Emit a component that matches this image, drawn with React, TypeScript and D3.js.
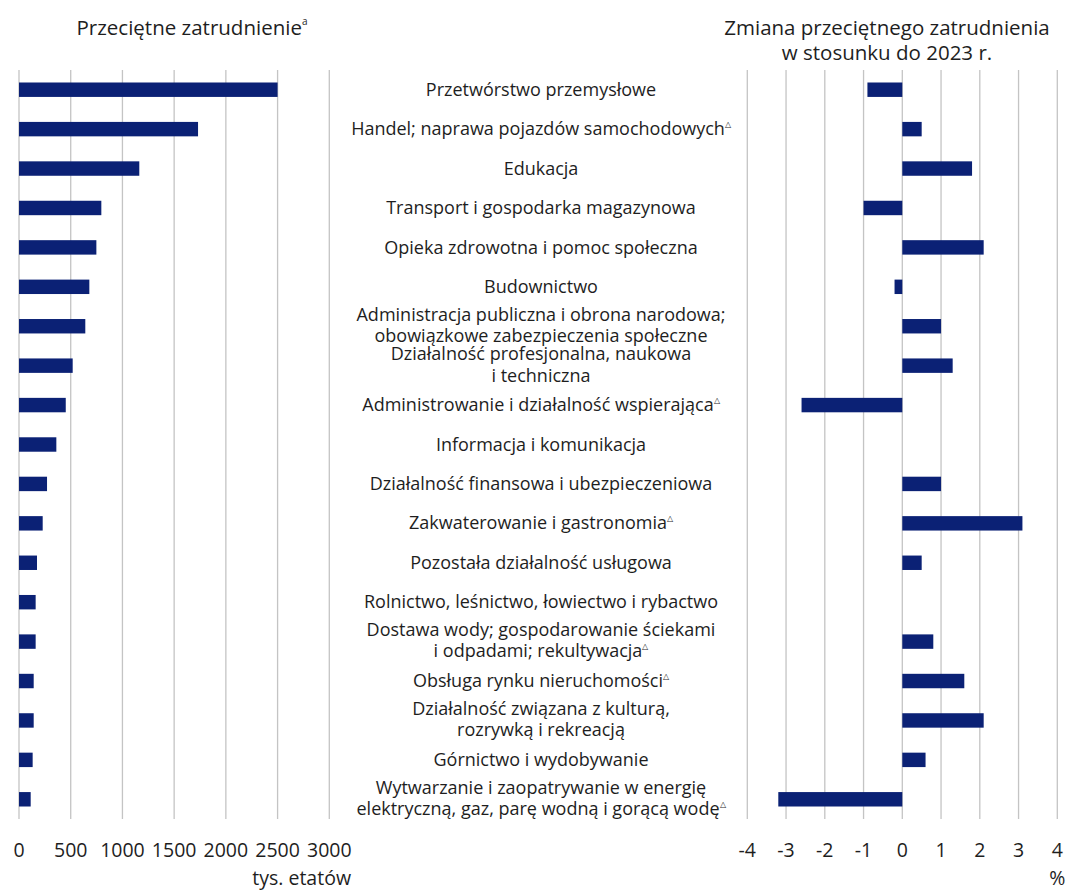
import React from "react";
import * as d3 from "d3";

const categories: string[] = [
  "Przetwórstwo przemysłowe",
  "Handel; naprawa pojazdów samochodowych△",
  "Edukacja",
  "Transport i gospodarka magazynowa",
  "Opieka zdrowotna i pomoc społeczna",
  "Budownictwo",
  "Administracja publiczna i obrona narodowa;|obowiązkowe zabezpieczenia społeczne",
  "Działalność profesjonalna, naukowa|i techniczna",
  "Administrowanie i działalność wspierająca△",
  "Informacja i komunikacja",
  "Działalność finansowa i ubezpieczeniowa",
  "Zakwaterowanie i gastronomia△",
  "Pozostała działalność usługowa",
  "Rolnictwo, leśnictwo, łowiectwo i rybactwo",
  "Dostawa wody; gospodarowanie ściekami|i odpadami; rekultywacja△",
  "Obsługa rynku nieruchomości△",
  "Działalność związana z kulturą,|rozrywką i rekreacją",
  "Górnictwo i wydobywanie",
  "Wytwarzanie i zaopatrywanie w energię|elektryczną, gaz, parę wodną i gorącą wodę△",
];

const employment: number[] = [2500, 1731, 1163, 796, 748, 680, 641, 519, 452, 361, 271, 229, 174, 161, 161, 142, 142, 132, 113];

const change: (number | null)[] = [-0.9, 0.5, 1.8, -1.0, 2.1, -0.2, 1.0, 1.3, -2.6, null, 1.0, 3.1, 0.5, null, 0.8, 1.6, 2.1, 0.6, -3.2];

const leftTicks: number[] = [0, 500, 1000, 1500, 2000, 2500, 3000];
const rightTicks: number[] = [-4, -3, -2, -1, 0, 1, 2, 3, 4];

const leftTitle = "Przeciętne zatrudnienie";
const rightTitle = ["Zmiana przeciętnego zatrudnienia", "w stosunku do 2023 r."];
const leftUnit = "tys. etatów";
const rightUnit = "%";

const FONT = "'Open Sans', 'Noto Sans', sans-serif";
const BAR = "#0b2175";
const GRID = "#c4c4c4";
const TEXT = "#1e1e1e";

export default function App() {
  const W = 1067;
  const H = 891;
  const top = 70;
  const bottom = 819;

  const y = d3
    .scaleBand<number>()
    .domain(d3.range(categories.length))
    .range([top, bottom])
    .paddingInner(0.634)
    .paddingOuter(0.317);

  const xL = d3.scaleLinear().domain([0, 3000]).range([19, 329.3]);
  const xR = d3.scaleLinear().domain([-4, 4]).range([747.3, 1057.3]);

  const labelX = 541;
  const fs = 18;
  const lineH = 21.5;
  const big = 20.5;
  const tickFs = 19.5;

  const renderLabel = (s: string, i: number) => {
    const lines = s.split("|");
    const cy = (y(i) as number) + y.bandwidth() / 2;
    const n = lines.length;
    return (
      <text key={i} x={labelX} textAnchor="middle" fontSize={fs} fill={TEXT} fontFamily={FONT}>
        {lines.map((ln, j) => {
          const tri = ln.endsWith("△");
          const txt = tri ? ln.slice(0, -1) : ln;
          const base = cy + (j - (n - 1) / 2) * lineH + fs * 0.34 - (n > 1 ? 1 : 0);
          return (
            <tspan key={j} x={labelX} y={base}>
              {txt}
              {tri && (
                <tspan fontSize={8} dy={-8}>
                  △
                </tspan>
              )}
            </tspan>
          );
        })}
      </text>
    );
  };

  return (
    <svg
      width={W}
      height={H}
      style={{ position: "absolute", left: 0, top: 0, background: "#fff" }}
      fontFamily={FONT}
    >
      <rect width={W} height={H} fill="#fff" />
      {/* titles */}
      <text x={192} y={35} textAnchor="middle" fontSize={big} fill={TEXT}>
        {leftTitle}
        <tspan fontSize={10} dy={-10}>a</tspan>
      </text>
      {rightTitle.map((t, i) => (
        <text key={i} x={887} y={35 + i * 25} textAnchor="middle" fontSize={big} fill={TEXT}>
          {t}
        </text>
      ))}

      {/* left grid */}
      {leftTicks.map((t) => (
        <line key={t} x1={xL(t)} x2={xL(t)} y1={top} y2={bottom} stroke={GRID} strokeWidth={1.3} />
      ))}
      {/* right grid */}
      {rightTicks.map((t) => (
        <line key={t} x1={xR(t)} x2={xR(t)} y1={top} y2={bottom} stroke={GRID} strokeWidth={1.3} />
      ))}

      {/* left bars */}
      {employment.map((v, i) => (
        <rect
          key={i}
          x={xL(0)}
          y={y(i)}
          width={xL(v) - xL(0)}
          height={y.bandwidth()}
          fill={BAR}
        />
      ))}
      {/* right bars */}
      {change.map((v, i) =>
        v === null || v === 0 ? null : (
          <rect
            key={i}
            x={Math.min(xR(0), xR(v))}
            y={y(i)}
            width={Math.abs(xR(v) - xR(0))}
            height={y.bandwidth()}
            fill={BAR}
          />
        )
      )}

      {/* labels */}
      {categories.map((c, i) => renderLabel(c, i))}

      {/* ticks */}
      {leftTicks.map((t) => (
        <text key={t} x={xL(t)} y={857} textAnchor="middle" fontSize={tickFs} fill={TEXT}>
          {t}
        </text>
      ))}
      {rightTicks.map((t) => (
        <text key={t} x={xR(t)} y={857} textAnchor="middle" fontSize={tickFs} fill={TEXT}>
          {t}
        </text>
      ))}
      <text x={351} y={885} textAnchor="end" fontSize={19.5} fill={TEXT}>
        {leftUnit}
      </text>
      <text x={xR(4)} y={885} textAnchor="middle" fontSize={19.5} fill={TEXT}>
        {rightUnit}
      </text>
    </svg>
  );
}
